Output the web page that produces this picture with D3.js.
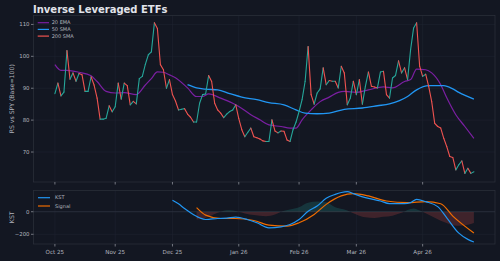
<!DOCTYPE html>
<html><head><meta charset="utf-8">
<script src="https://cdn.jsdelivr.net/npm/d3@7"></script>
<style>html,body{margin:0;padding:0;background:#131722;}svg{display:block;font-family:"DejaVu Sans",sans-serif;}</style>
</head><body><svg id="c" width="500" height="261"></svg>
<script>
const xTickIdx = [0,20,39,61,81,100,122];
const xTickLabels = ["Oct 25","Nov 25","Dec 25","Jan 26","Feb 26","Mar 26","Apr 26"];
const rsTicks = [70,80,90,100,110];
const kstTicks = [0,-200];
const rs = [88.3,91.6,87.6,88.8,101.8,92.8,94.8,92.2,94.6,94.2,
89.0,89.0,93.6,91.0,86.9,80.3,80.3,80.6,84.5,82.6,
84.2,91.6,86.6,91.6,90.8,84.8,85.9,85.1,93.0,93.7,
97.5,100.5,101.4,110.5,108.7,97.4,95.8,90.0,92.7,88.0,
86.0,83.2,83.4,83.6,81.9,80.9,79.4,79.4,85.3,88.0,
88.2,94.0,92.1,85.3,83.2,82.2,80.8,81.9,82.7,83.2,
84.8,80.5,77.0,74.8,76.2,77.5,74.8,74.5,74.1,73.5,
73.3,73.3,80.1,76.6,76.0,76.6,76.5,73.8,73.3,77.0,
79.4,82.7,86.4,92.1,103.1,88.0,85.0,88.5,89.8,96.4,
91.1,92.4,92.2,92.2,90.1,96.9,94.8,84.8,86.9,92.2,
88.0,92.7,85.0,90.6,95.1,90.6,90.4,90.1,95.1,95.3,
88.0,86.9,93.2,94.0,98.6,94.8,96.4,92.7,102.1,108.9,
110.5,96.9,93.7,94.4,90.6,85.8,79.0,78.0,77.5,74.3,
71.7,68.6,68.3,64.4,66.0,67.2,63.3,64.9,63.3,63.8];
const emaIdx = [0,2,4,8,12,14,17,20,23,27,30,32,34,36,38,40,44,47,49,51,55,59,61,65,68,71,75,78,80,82,85,88,91,94,96,100,104,109,112,116,118,120,123,125,128,130,133,136,139];
const ema = [97.4,95.6,95.6,95.0,93.9,92.1,89.0,88.5,88.6,88.0,91.0,93.0,95.1,95.0,94.2,93.3,90.1,87.4,87.4,88.2,86.9,85.3,84.3,81.7,80.1,78.5,78.0,77.5,77.5,80.1,83.2,85.8,87.2,88.7,89.0,88.7,89.5,90.4,90.1,92.1,92.7,96.0,95.8,94.8,91.1,87.0,81.7,78.0,74.3];
const smaIdx = [44,47,50,54,58,62,67,71,76,80,83,87,91,96,102,107,111,117,120,124,129,132,134,139];
const sma = [91.1,90.1,89.7,89.5,88.3,87.2,86.4,85.5,84.8,83.2,82.2,82.0,82.2,83.4,83.8,84.5,85.1,87.4,89.5,90.8,90.8,89.8,88.7,86.6];
const kstIdx = [39,41,43,45,48,50,54,57,60,64,67,71,75,78,81,84,87,90,93,95,97,99,103,108,111,116,118,120,123,127,130,134,137,139];
const kst = [101,70,28,-9,-54,-69,-60,-57,-48,-71,-98,-143,-134,-113,-69,5,50,119,154,170,178,160,125,95,71,71,80,110,89,45,-54,-190,-245,-268];
const sigIdx = [47,50,55,60,66,71,77,81,86,90,95,99,104,110,117,123,128,132,139];
const sig = [36,-30,-60,-60,-78,-119,-128,-98,-24,65,140,160,140,95,80,89,71,-39,-188];
const histIdx = [47,50,53,55,57,59,61,63,66,70,73,75,78,81,84,87,90,93,96,98,100,103,106,109,112,115,117,119,121,122,125,128,131,134,137,139];
const hist = [-70,-55,-20,0,12,10,0,-15,-30,-40,-25,0,20,40,80,90,85,40,20,0,-25,-50,-55,-45,-35,-10,15,28,10,0,-40,-80,-110,-125,-115,-100];

const svg = d3.select("#c");
const W=500;
const L=33.5, R=495;
const top1=15.5, bot1=182, top2=190.5, bot2=244;
const x = d3.scaleLinear().domain([-7.1,146]).range([L,R]);
const y1 = d3.scaleLinear().domain([60.6,112.8]).range([bot1,top1]);
const y2 = d3.scaleLinear().domain([-286,188]).range([bot2,top2]);
const textCol="#b2b5be", gridCol="#1f2330", frameCol="#2a2e39";

// title
svg.append("text").attr("x",33).attr("y",12.8).attr("fill","#e1e3ea").attr("font-size",10).attr("font-weight","bold").text("Inverse Leveraged ETFs");

function panel(yS, top, bot, ticks, fmt){
  const g = svg.append("g");
  // grid
  g.selectAll(".vg").data(xTickIdx).join("line").attr("x1",d=>x(d)).attr("x2",d=>x(d)).attr("y1",top).attr("y2",bot).attr("stroke",gridCol).attr("stroke-width",0.6);
  g.selectAll(".hg").data(ticks).join("line").attr("x1",L).attr("x2",R).attr("y1",d=>yS(d)).attr("y2",d=>yS(d)).attr("stroke",gridCol).attr("stroke-width",0.6);
  g.append("rect").attr("x",L).attr("y",top).attr("width",R-L).attr("height",bot-top).attr("fill","none").attr("stroke",frameCol).attr("stroke-width",0.8);
  // y ticks
  g.selectAll(".yt").data(ticks).join("line").attr("x1",L-2.5).attr("x2",L).attr("y1",d=>yS(d)).attr("y2",d=>yS(d)).attr("stroke",textCol).attr("stroke-width",0.6);
  g.selectAll(".yl").data(ticks).join("text").attr("x",L-4).attr("y",d=>yS(d)).attr("dy","0.35em").attr("text-anchor","end").attr("font-size",5.4).attr("fill",textCol).text(fmt);
  // x ticks
  g.selectAll(".xt").data(xTickIdx).join("line").attr("x1",d=>x(d)).attr("x2",d=>x(d)).attr("y1",bot).attr("y2",bot+2.5).attr("stroke",textCol).attr("stroke-width",0.6);
  return g;
}
panel(y1, top1, bot1, rsTicks, d=>d);
const g2 = panel(y2, top2, bot2, kstTicks, d=> d<0 ? "\u2212"+Math.abs(d) : d);
svg.selectAll(".xl").data(xTickIdx).join("text").attr("x",(d)=>x(d)).attr("y",254).attr("text-anchor","middle").attr("font-size",5.6).attr("fill",textCol).text((d,i)=>xTickLabels[i]);

// axis labels
svg.append("text").attr("transform",`translate(14,${(top1+bot1)/2}) rotate(-90)`).attr("text-anchor","middle").attr("font-size",6.2).attr("fill",textCol).text("RS vs SPY (Base=100)");
svg.append("text").attr("transform",`translate(14,${(top2+bot2)/2}) rotate(-90)`).attr("text-anchor","middle").attr("font-size",6.2).attr("fill",textCol).text("KST");

// top panel lines
const line1 = d3.line().x(d=>x(d[0])).y(d=>y1(d[1])).curve(d3.curveMonotoneX);
svg.append("path").attr("d",line1(emaIdx.map((d,i)=>[d,ema[i]]))).attr("fill","none").attr("stroke","#7b1fa2").attr("stroke-width",1.2);
svg.append("path").attr("d",line1(smaIdx.map((d,i)=>[d,sma[i]]))).attr("fill","none").attr("stroke","#2196f3").attr("stroke-width",1.3);
const segLine = d3.line().x(d=>x(d[0])).y(d=>y1(d[1]));
const segs = d3.range(rs.length-1).map(i=>[[i,rs[i]],[i+1,rs[i+1]]]);
svg.append("g").selectAll("path").data(segs).join("path").attr("d",d=>segLine(d)).attr("fill","none")
  .attr("stroke",d=>d[1][1]>=d[0][1]?"#26a69a":"#ef5350").attr("stroke-width",1.1).attr("stroke-linecap","round");

// legend top
const leg1 = [["20 EMA","#7b1fa2"],["50 SMA","#2196f3"],["200 SMA","#ef5350"]];
leg1.forEach((l,i)=>{
  const yy = 22.7 + i*6.7;
  svg.append("line").attr("x1",37.7).attr("x2",49).attr("y1",yy).attr("y2",yy).attr("stroke",l[1]).attr("stroke-width",1.2);
  svg.append("text").attr("x",51.7).attr("y",yy).attr("dy","0.35em").attr("font-size",5).attr("fill",textCol).text(l[0]);
});

// KST panel
svg.append("line").attr("x1",L).attr("x2",R).attr("y1",y2(0)).attr("y2",y2(0)).attr("stroke","#2f3340").attr("stroke-width",0.7);
const defs = svg.append("defs");
defs.append("clipPath").attr("id","pos").append("rect").attr("x",L).attr("y",top2).attr("width",R-L).attr("height",y2(0)-top2);
defs.append("clipPath").attr("id","neg").append("rect").attr("x",L).attr("y",y2(0)).attr("width",R-L).attr("height",bot2-y2(0));
const area = d3.area().x(d=>x(d[0])).y0(y2(0)).y1(d=>y2(d[1])).curve(d3.curveMonotoneX);
const hd = histIdx.map((d,i)=>[d,hist[i]]);
svg.append("path").attr("d",area(hd)).attr("fill","rgba(38,166,154,0.22)").attr("clip-path","url(#pos)");
svg.append("path").attr("d",area(hd)).attr("fill","rgba(239,83,80,0.2)").attr("clip-path","url(#neg)");
const line2 = d3.line().x(d=>x(d[0])).y(d=>y2(d[1])).curve(d3.curveMonotoneX);
svg.append("path").attr("d",line2(sigIdx.map((d,i)=>[d,sig[i]]))).attr("fill","none").attr("stroke","#ef6c00").attr("stroke-width",1.2);
svg.append("path").attr("d",line2(kstIdx.map((d,i)=>[d,kst[i]]))).attr("fill","none").attr("stroke","#2196f3").attr("stroke-width",1.2);
const leg2 = [["KST","#2196f3"],["Signal","#ef6c00"]];
leg2.forEach((l,i)=>{
  const yy = 197.7 + i*8.3;
  svg.append("line").attr("x1",38).attr("x2",50).attr("y1",yy).attr("y2",yy).attr("stroke",l[1]).attr("stroke-width",1.2);
  svg.append("text").attr("x",55).attr("y",yy).attr("dy","0.35em").attr("font-size",5).attr("fill",textCol).text(l[0]);
});
</script></body></html>
